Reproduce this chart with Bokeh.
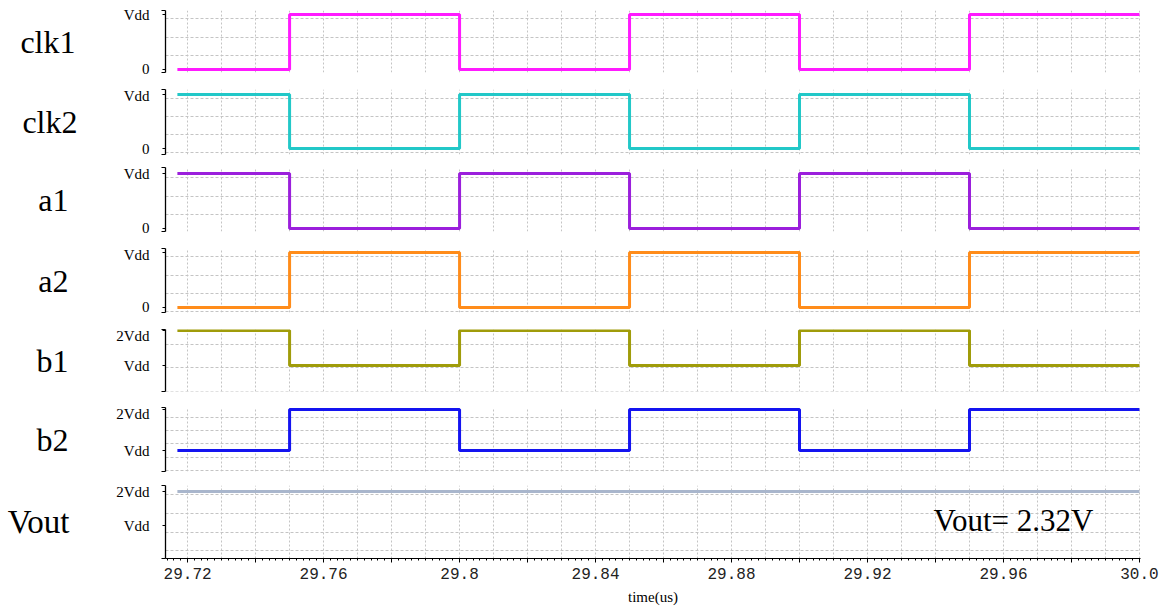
from bokeh.plotting import figure
from bokeh.models import Range1d, FixedTicker, Label, LinearAxis
from bokeh.layouts import column
from bokeh.embed import file_html
from bokeh.resources import INLINE

# ---------------- data ----------------
time_us = [29.717, 29.75, 29.80, 29.85, 29.90, 29.95, 30.0]
clk1 = [0, 1, 0, 1, 0, 1, 1]
clk2 = [1, 0, 1, 0, 1, 0, 0]
a1 = [1, 0, 1, 0, 1, 0, 0]
a2 = [0, 1, 0, 1, 0, 1, 1]
b1 = [2, 1, 2, 1, 2, 1, 1]
b2 = [1, 2, 1, 2, 1, 2, 2]
vout = [2, 2, 2, 2, 2, 2, 2]

signal_names = ["clk1", "clk2", "a1", "a2", "b1", "b2", "Vout"]
signal_values = [clk1, clk2, a1, a2, b1, b2, vout]
signal_colors = ["#ff1aff", "#22c8c8", "#9b1fdc", "#ff8c1a", "#a09c0a", "#1414f0", "#a9b6cc"]

low_ticks = [0, 1]
low_tick_labels = ["0", "Vdd"]
high_ticks = [1, 2]
high_tick_labels = ["Vdd", "2Vdd"]

vout_note = "Vout= 2.32V"
x_label = "time(us)"
x_tick_values = [29.72, 29.74, 29.76, 29.78, 29.8, 29.82, 29.84, 29.86,
                 29.88, 29.9, 29.92, 29.94, 29.96, 29.98, 30.0]
x_tick_labels = ["29.72", "", "29.76", "", "29.8", "", "29.84", "",
                 "29.88", "", "29.92", "", "29.96", "", "30.0"]

# ---------------- styling / layout ----------------
SERIF = "Liberation Serif"
MONO = "Liberation Mono"
LEFT = 165
FRAME_W = 975
W = LEFT + FRAME_W + 20
x_range = Range1d(29.7135, 30.0003)
x_grid = [round(29.72 + 0.01 * k, 2) for k in range(29)]
x_minor = [round(29.714 + 0.002 * k, 3) for k in range(144)]

y_ranges = [(-0.055, 1.073), (-0.111, 1.093), (-0.055, 1.109), (-0.091, 1.073),
            (0.257, 2.03), (0.488, 2.05), (0.03, 2.176)]
y_grids = [[-0.07, 0.26, 0.59, 0.93]] * 4 + [[0.26, 0.93, 1.6],
                                             [0.51, 0.83, 1.16, 1.49, 1.81],
                                             [0.265, 0.794, 1.353, 1.91]]
border_tops = [10, 2, 2, 2, 2, 2, 2]
fig_heights = [87, 78, 81, 81, 78, 78, 126]
frame_heights = [62, 65, 64, 64, 62, 64, 73]
name_standoffs = [39, 37, 46, 46, 39, 39, 38]
name_sizes = ["32px", "32px", "32px", "32px", "32px", "32px", "33px"]

figs = []
n = len(signal_names)
for i in range(n):
    last = i == n - 1
    y0, y1 = y_ranges[i]
    mb = fig_heights[i] - border_tops[i] - frame_heights[i]
    p = figure(width=W, height=fig_heights[i], x_range=x_range,
               y_range=Range1d(y0, y1), output_backend="svg",
               toolbar_location=None,
               x_axis_location="below" if last else None,
               min_border_left=LEFT, min_border_right=W - LEFT - FRAME_W,
               min_border_top=border_tops[i], min_border_bottom=mb)
    p.outline_line_color = None
    p.background_fill_color = "white"
    p.border_fill_color = "white"

    # grids
    p.xgrid.ticker = FixedTicker(ticks=x_grid)
    p.xgrid.grid_line_color = "#c4c4c4"
    p.xgrid.grid_line_dash = "2 2"
    p.ygrid.ticker = FixedTicker(ticks=y_grids[i])
    p.ygrid.grid_line_color = "#c4c4c4"
    p.ygrid.grid_line_dash = "3 2"

    # signal
    p.step(time_us, signal_values[i], mode="after",
           line_color=signal_colors[i], line_width=3)

    # y axis
    ticks = low_ticks if i < 4 else high_ticks
    labels = low_tick_labels if i < 4 else high_tick_labels
    span = y1 - y0
    ax = p.yaxis[0]
    ax.ticker = FixedTicker(ticks=ticks, minor_ticks=[y0 + 0.004 * span, y1 - 0.004 * span])
    ax.major_label_overrides = {float(t): l for t, l in zip(ticks, labels)}
    ax.major_tick_out = 3
    ax.major_tick_in = 0
    ax.minor_tick_out = 4
    ax.minor_tick_in = 0
    ax.minor_tick_line_color = "black"
    ax.major_tick_line_color = "black"
    ax.axis_line_color = "black"
    ax.axis_line_width = 1.3
    ax.major_label_standoff = 12
    ax.major_label_text_font = SERIF
    ax.major_label_text_font_size = "15px"
    ax.major_label_text_color = "black"

    # panel name at the left, as a second (bare) left axis
    mid = (y0 + y1) / 2
    name_axis = LinearAxis(ticker=FixedTicker(ticks=[mid], minor_ticks=[]),
                           major_label_overrides={mid: signal_names[i]},
                           axis_line_color=None, major_tick_line_color=None,
                           minor_tick_line_color=None,
                           major_label_standoff=name_standoffs[i],
                           major_label_text_font=SERIF,
                           major_label_text_font_size=name_sizes[i],
                           major_label_text_color="black")
    p.add_layout(name_axis, "left")

    if last:
        p.add_layout(Label(x=768, x_units="screen", y=1.15, text=vout_note,
                           text_align="left", text_baseline="middle",
                           text_font=SERIF, text_font_size="31px",
                           text_color="black"))
        xa = p.xaxis[0]
        xa.ticker = FixedTicker(ticks=x_tick_values, minor_ticks=x_minor)
        xa.major_label_overrides = {float(t): l for t, l in zip(x_tick_values, x_tick_labels)}
        xa.major_tick_out = 4
        xa.major_tick_in = 0
        xa.minor_tick_out = 2
        xa.minor_tick_in = 0
        xa.axis_line_color = "black"
        xa.major_tick_line_color = "black"
        xa.minor_tick_line_color = "black"
        xa.major_label_standoff = 5
        xa.major_label_text_font = MONO
        xa.major_label_text_font_size = "16px"
        xa.major_label_text_color = "#222222"
        xa.axis_label = x_label
        xa.axis_label_standoff = 7
        xa.axis_label_text_font = SERIF
        xa.axis_label_text_font_style = "normal"
        xa.axis_label_text_font_size = "15px"
        xa.axis_label_text_color = "black"
    figs.append(p)

layout = column(*figs, spacing=0)
open("out.html", "w").write(file_html(layout, INLINE))
